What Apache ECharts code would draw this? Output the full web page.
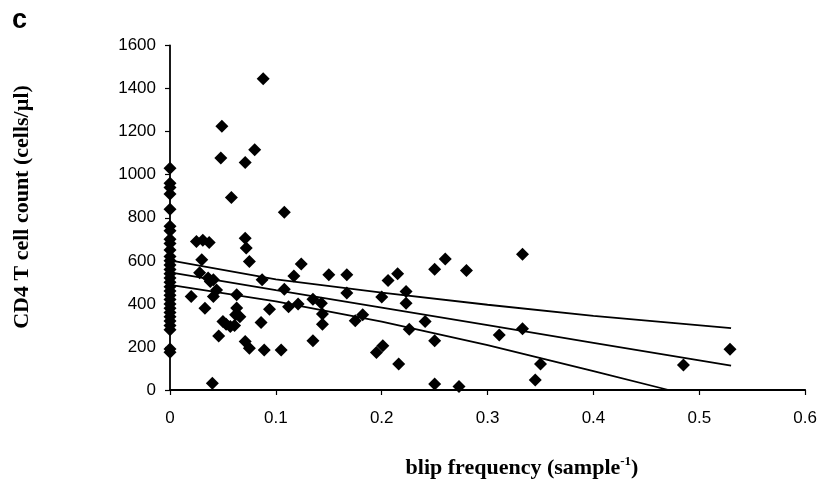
<!DOCTYPE html>
<html>
<head>
<meta charset="utf-8">
<script src="https://cdn.jsdelivr.net/npm/echarts@6/dist/echarts.min.js"></script>
<style>html,body{margin:0;padding:0;background:#fff}#c{width:820px;height:495px}</style>
</head>
<body>
<div id="c"></div>
<script>
// blip frequency (sample^-1) and CD4 T cell count (cells/µl)
const zeroColumnCounts = [1030, 960, 940, 910, 840, 760, 740, 700, 680, 650, 620, 600, 580, 560, 540, 520, 500, 480, 460, 440, 420, 400, 380, 360, 340, 320, 300, 280, 190, 175];
const blipFreq = [0.020,0.025,0.031,0.037,0.030,0.028,0.033,0.036,0.038,0.041,0.041,0.044,0.040,0.046,0.049,0.048,0.050,0.053,0.057,0.058,0.061,0.062,0.063,0.063,0.066,0.071,0.071,0.072,0.075,0.071,0.075,0.080,0.088,0.087,0.086,0.089,0.094,0.105,0.108,0.108,0.112,0.117,0.124,0.121,0.135,0.135,0.143,0.144,0.144,0.150,0.167,0.167,0.175,0.182,0.195,0.201,0.200,0.206,0.215,0.216,0.223,0.223,0.226,0.241,0.250,0.250,0.250,0.260,0.273,0.280,0.311,0.333,0.333,0.350,0.345,0.485,0.529];
const cd4Count = [434,690,695,685,605,544,380,520,504,512,434,465,31,251,1225,1078,318,305,295,894,300,350,442,381,340,1057,705,659,597,225,194,1116,1445,512,313,186,375,186,825,468,387,530,585,400,422,229,403,353,305,535,535,450,322,349,174,205,432,508,540,121,457,403,282,318,561,229,28,608,16,555,256,631,284,121,46,116,189];
// regression line and confidence bands
const fitX = [0, 0.1, 0.2, 0.3, 0.4, 0.53];
const fitMid = [546, 464, 383, 301, 219, 113];
const upperX = [0, 0.1, 0.2, 0.3, 0.4, 0.53];
const upperY = [602, 514, 452, 396, 344, 287];
const lowerX = [0, 0.1, 0.2, 0.3, 0.4, 0.471];
const lowerY = [488, 412, 318, 208, 88, 0];
const xTickLabels = ['0', '0.1', '0.2', '0.3', '0.4', '0.5', '0.6'];
const yTickLabels = ['0', '200', '400', '600', '800', '1000', '1200', '1400', '1600'];

const pts = zeroColumnCounts.map(v => [0, v]).concat(blipFreq.map((x, i) => [x, cd4Count[i]]));
const pair = (xs, ys) => xs.map((x, i) => [x, ys[i]]);

const chart = echarts.init(document.getElementById('c'), null, {renderer: 'canvas'});
const tickFont = {color: '#000', fontFamily: 'Liberation Sans, Arial, sans-serif', fontSize: 17};
const lineStyle = {color: '#000', width: 1.8};
chart.setOption({
  animation: false,
  backgroundColor: '#fff',
  grid: {left: 170, right: 14, top: 45.5, bottom: 105, containLabel: false},
  xAxis: {
    type: 'value', min: 0, max: 0.6, interval: 0.1,
    axisLine: {show: true, lineStyle: {color: '#000', width: 1.8}},
    axisTick: {show: true, length: 5, lineStyle: {color: '#000', width: 1.2}},
    splitLine: {show: false},
    axisLabel: Object.assign({margin: 20, formatter: (v) => xTickLabels[Math.round(v * 10)]}, tickFont)
  },
  yAxis: {
    type: 'value', min: 0, max: 1600, interval: 200,
    axisLine: {show: true, lineStyle: {color: '#000', width: 1.8}},
    axisTick: {show: true, length: 5, lineStyle: {color: '#000', width: 1.2}},
    splitLine: {show: false},
    axisLabel: Object.assign({margin: 14, formatter: v => yTickLabels[Math.round(v / 200)]}, tickFont)
  },
  graphic: [
    {type: 'text', left: 12, top: 7, style: {text: 'c', fill: '#000', font: 'bold 27px Liberation Sans, Arial, sans-serif'}},
    {type: 'text', x: 22, y: 207, rotation: Math.PI / 2,
      style: {text: 'CD4 T cell count (cells/µl)', fill: '#000', align: 'center', verticalAlign: 'middle', font: 'bold 22px Liberation Serif, Times New Roman, serif'}},
    {type: 'text', x: 522, y: 468,
      style: {
        text: '{b|blip frequency (sample}{s|-1}{b|)}', align: 'center', verticalAlign: 'middle',
        rich: {
          b: {fontFamily: 'Liberation Serif, Times New Roman, serif', fontWeight: 'bold', fontSize: 22, fill: '#000', color: '#000'},
          s: {fontFamily: 'Liberation Serif, Times New Roman, serif', fontWeight: 'bold', fontSize: 13, fill: '#000', color: '#000', verticalAlign: 'top', padding: [0, 0, 12, 0]}
        }
      }}
  ],
  series: [
    {type: 'line', data: pair(upperX, upperY), symbol: 'none', lineStyle: lineStyle, z: 2},
    {type: 'line', data: pair(fitX, fitMid), symbol: 'none', lineStyle: lineStyle, z: 2},
    {type: 'line', data: pair(lowerX, lowerY), symbol: 'none', lineStyle: lineStyle, z: 2},
    {type: 'scatter', data: pts, symbol: 'diamond', symbolSize: 13, itemStyle: {color: '#000', opacity: 1}, z: 3}
  ]
});
</script>
</body>
</html>
